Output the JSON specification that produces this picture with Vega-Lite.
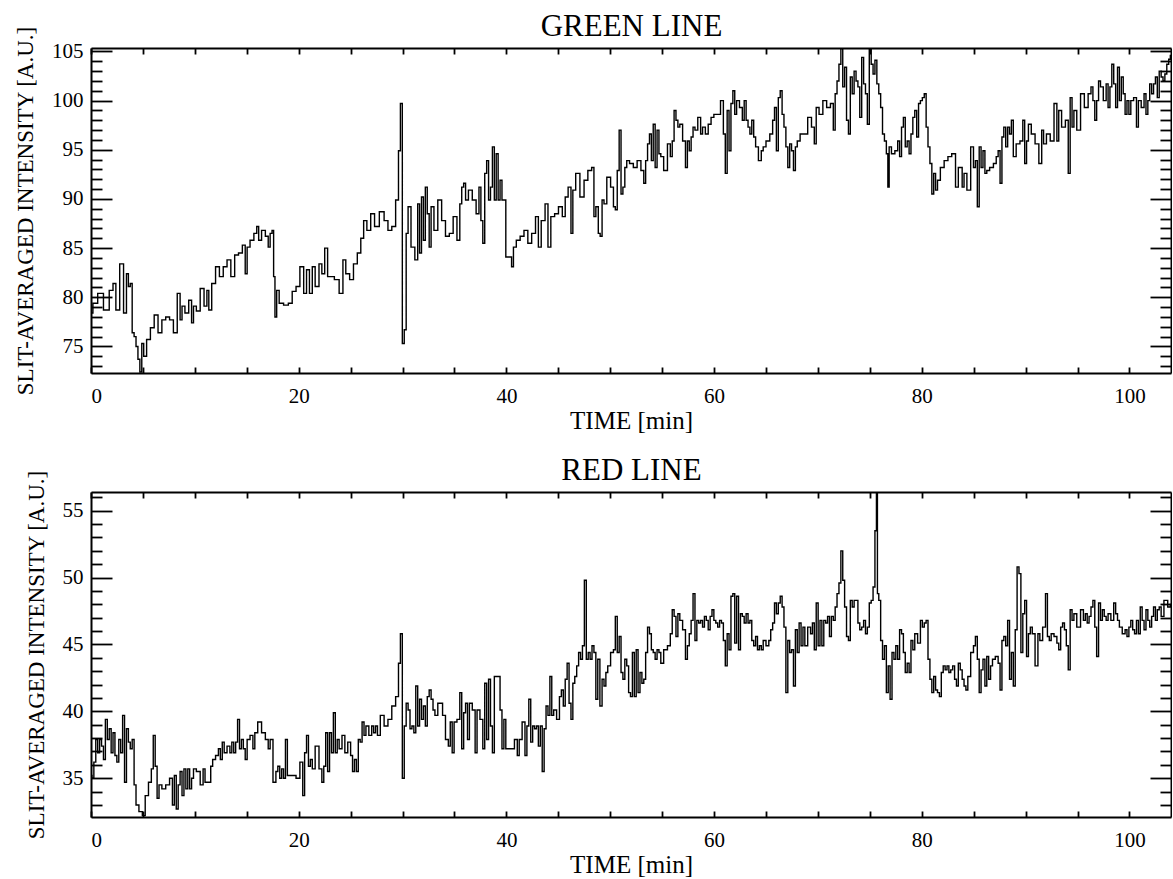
{
"$schema": "https://vega.github.io/schema/vega-lite/v6.json",
"padding": {"left": 14, "top": 10, "right": 0, "bottom": 0},
"background": "white",
"spacing": 21,
"config": {
 "font": "Liberation Serif",
 "view": {"stroke": null},
 "axis": {"grid": false, "domainColor": "black", "domainWidth": 2, "tickColor": "black", "tickWidth": 1.8, "labelColor": "black", "titleColor": "black", "labelFont": "Liberation Serif", "titleFont": "Liberation Serif", "labelFontSize": 21, "titleFontWeight": "normal"}
},
"datasets": {
 "green": [
{"t":0,"v":78.4},{"t":0.37,"v":79.4},{"t":0.92,"v":80.4},{"t":1.48,"v":78.7},{"t":2.03,"v":80.7},{"t":2.21,"v":81.4},{"t":2.58,"v":78.7},{"t":2.95,"v":83.4},{"t":3.32,"v":78.4},{"t":3.51,"v":82.4},{"t":3.69,"v":81.1},{"t":3.87,"v":81.4},{"t":4.06,"v":76.4},{"t":4.24,"v":76.0},{"t":4.43,"v":75.0},{"t":4.61,"v":73.7},{"t":4.80,"v":72.4},{"t":4.98,"v":75.3},{"t":5.17,"v":74.0},{"t":5.54,"v":75.7},{"t":5.90,"v":76.9},{"t":6.27,"v":78.2},{"t":6.64,"v":76.4},{"t":7.01,"v":77.7},{"t":7.38,"v":78.0},{"t":7.75,"v":77.7},{"t":8.12,"v":76.4},{"t":8.49,"v":80.4},{"t":8.67,"v":77.7},{"t":8.86,"v":79.1},{"t":9.23,"v":78.4},{"t":9.59,"v":79.7},{"t":9.78,"v":77.4},{"t":9.96,"v":79.1},{"t":10.33,"v":78.6},{"t":10.70,"v":80.9},{"t":11.07,"v":79.1},{"t":11.25,"v":80.7},{"t":11.44,"v":78.7},{"t":11.81,"v":81.4},{"t":12.18,"v":83.1},{"t":12.55,"v":82.1},{"t":12.92,"v":83.1},{"t":13.28,"v":83.8},{"t":13.65,"v":82.1},{"t":14.02,"v":84.3},{"t":14.39,"v":84.5},{"t":14.76,"v":85.3},{"t":14.94,"v":82.4},{"t":15.13,"v":85.1},{"t":15.50,"v":85.8},{"t":15.87,"v":86.5},{"t":16.05,"v":87.2},{"t":16.24,"v":85.8},{"t":16.61,"v":86.8},{"t":16.97,"v":86.2},{"t":17.16,"v":85.1},{"t":17.34,"v":86.5},{"t":17.53,"v":86.8},{"t":17.64,"v":82.1},{"t":17.79,"v":78.0},{"t":17.97,"v":80.7},{"t":18.27,"v":79.4},{"t":18.82,"v":79.2},{"t":19.19,"v":79.4},{"t":19.56,"v":80.6},{"t":19.93,"v":81.1},{"t":20.30,"v":83.1},{"t":20.66,"v":80.4},{"t":20.85,"v":82.8},{"t":21.22,"v":80.4},{"t":21.40,"v":83.1},{"t":21.77,"v":81.1},{"t":22.14,"v":83.4},{"t":22.32,"v":82.4},{"t":22.69,"v":85.0},{"t":22.88,"v":82.1},{"t":23.25,"v":82.1},{"t":23.62,"v":81.8},{"t":24.17,"v":80.4},{"t":24.35,"v":83.8},{"t":24.72,"v":82.4},{"t":25.09,"v":81.8},{"t":25.46,"v":83.4},{"t":25.83,"v":84.5},{"t":26.13,"v":86.0},{"t":26.38,"v":87.8},{"t":26.75,"v":86.8},{"t":27.12,"v":88.5},{"t":27.49,"v":87.2},{"t":28.04,"v":88.7},{"t":28.41,"v":87.8},{"t":28.78,"v":86.8},{"t":29.15,"v":87.2},{"t":29.52,"v":89.9},{"t":29.70,"v":94.9},{"t":29.89,"v":99.7},{"t":30.07,"v":75.3},{"t":30.26,"v":76.7},{"t":30.44,"v":86.5},{"t":30.63,"v":89.2},{"t":31.00,"v":85.1},{"t":31.37,"v":83.8},{"t":31.55,"v":89.5},{"t":31.73,"v":84.5},{"t":31.92,"v":90.2},{"t":32.10,"v":85.8},{"t":32.29,"v":91.2},{"t":32.47,"v":88.5},{"t":32.66,"v":85.1},{"t":32.84,"v":89.2},{"t":33.21,"v":86.8},{"t":33.58,"v":89.9},{"t":33.95,"v":87.8},{"t":34.32,"v":86.2},{"t":34.69,"v":86.5},{"t":35.06,"v":88.2},{"t":35.42,"v":85.8},{"t":35.61,"v":89.5},{"t":35.79,"v":91.2},{"t":35.98,"v":91.6},{"t":36.16,"v":89.9},{"t":36.53,"v":90.9},{"t":36.90,"v":89.9},{"t":37.27,"v":88.5},{"t":37.45,"v":91.2},{"t":37.64,"v":87.8},{"t":37.82,"v":85.5},{"t":38.01,"v":92.6},{"t":38.19,"v":93.9},{"t":38.38,"v":89.9},{"t":38.56,"v":91.2},{"t":38.75,"v":95.3},{"t":38.93,"v":89.9},{"t":39.11,"v":94.6},{"t":39.30,"v":89.9},{"t":39.48,"v":91.9},{"t":39.67,"v":89.9},{"t":39.85,"v":89.9},{"t":40.04,"v":84.1},{"t":40.41,"v":84.1},{"t":40.59,"v":83.1},{"t":40.77,"v":85.1},{"t":41.14,"v":85.8},{"t":41.51,"v":86.2},{"t":41.88,"v":86.8},{"t":42.25,"v":85.5},{"t":42.62,"v":86.5},{"t":42.99,"v":88.2},{"t":43.17,"v":85.1},{"t":43.54,"v":87.8},{"t":43.91,"v":89.5},{"t":44.10,"v":85.1},{"t":44.46,"v":88.2},{"t":44.83,"v":88.5},{"t":45.20,"v":89.2},{"t":45.57,"v":88.2},{"t":45.76,"v":90.2},{"t":46.13,"v":91.2},{"t":46.31,"v":86.5},{"t":46.49,"v":90.9},{"t":46.86,"v":92.6},
{"t":47.30,"v":90.2},{"t":47.66,"v":91.9},{"t":48.03,"v":92.9},{"t":48.39,"v":93.2},{"t":48.47,"v":88.2},{"t":48.76,"v":89.2},{"t":48.94,"v":86.5},{"t":49.12,"v":86.2},{"t":49.31,"v":89.9},{"t":49.49,"v":89.5},{"t":49.85,"v":92.2},{"t":50.22,"v":91.2},{"t":50.40,"v":89.2},{"t":50.58,"v":88.9},{"t":50.77,"v":92.9},{"t":50.95,"v":97.0},{"t":51.13,"v":90.5},{"t":51.31,"v":91.2},{"t":51.50,"v":93.2},{"t":51.68,"v":93.9},{"t":52.04,"v":93.6},{"t":52.41,"v":93.2},{"t":52.77,"v":93.9},{"t":53.14,"v":92.9},{"t":53.32,"v":91.6},{"t":53.50,"v":93.9},{"t":53.69,"v":95.6},{"t":53.87,"v":96.6},{"t":54.05,"v":93.9},{"t":54.23,"v":97.6},{"t":54.42,"v":93.2},{"t":54.60,"v":97.0},{"t":54.78,"v":94.6},{"t":54.96,"v":94.3},{"t":55.33,"v":92.9},{"t":55.69,"v":95.6},{"t":55.88,"v":94.3},{"t":56.06,"v":95.9},{"t":56.24,"v":99.0},{"t":56.42,"v":98.0},{"t":56.61,"v":97.3},{"t":56.79,"v":97.6},{"t":57.15,"v":95.9},{"t":57.34,"v":93.2},{"t":57.52,"v":95.9},{"t":57.70,"v":94.9},{"t":57.88,"v":96.3},{"t":58.07,"v":97.3},{"t":58.25,"v":97.0},{"t":58.61,"v":98.3},{"t":58.80,"v":96.6},{"t":58.98,"v":97.3},{"t":59.34,"v":96.6},{"t":59.53,"v":97.6},{"t":59.89,"v":98.3},{"t":60.07,"v":98.6},{"t":60.44,"v":98.6},{"t":60.80,"v":100.0},{"t":60.99,"v":96.6},{"t":61.17,"v":92.6},{"t":61.35,"v":99.0},{"t":61.53,"v":94.9},{"t":61.72,"v":99.7},{"t":61.90,"v":101.0},{"t":62.08,"v":98.6},{"t":62.26,"v":100.0},{"t":62.63,"v":99.3},{"t":62.81,"v":98.0},{"t":62.99,"v":100.0},{"t":63.18,"v":98.0},{"t":63.36,"v":97.3},{"t":63.54,"v":96.6},{"t":63.72,"v":98.0},{"t":63.91,"v":96.3},{"t":64.09,"v":95.3},{"t":64.45,"v":93.9},{"t":64.64,"v":94.9},{"t":64.82,"v":95.3},{"t":65.18,"v":95.9},{"t":65.55,"v":96.6},{"t":65.73,"v":98.0},{"t":65.91,"v":99.3},{"t":66.09,"v":94.9},{"t":66.28,"v":100.3},{"t":66.46,"v":101.0},{"t":66.64,"v":98.6},{"t":66.82,"v":97.3},{"t":67.01,"v":95.3},{"t":67.19,"v":93.2},{"t":67.37,"v":95.6},{"t":67.55,"v":94.9},{"t":67.74,"v":92.9},{"t":67.92,"v":95.3},{"t":68.10,"v":95.9},{"t":68.47,"v":96.6},{"t":68.83,"v":96.6},{"t":69.20,"v":98.3},{"t":69.56,"v":97.3},{"t":69.74,"v":95.6},{"t":69.93,"v":99.3},{"t":70.29,"v":98.6},{"t":70.66,"v":100.0},{"t":71.02,"v":99.3},{"t":71.39,"v":99.7},{"t":71.57,"v":97.0},{"t":71.75,"v":100.7},{"t":71.93,"v":102.0},{"t":72.12,"v":103.7},{"t":72.30,"v":105.3},{"t":72.48,"v":101.4},{"t":72.66,"v":103.4},{"t":72.85,"v":98.0},{"t":73.03,"v":96.6},{"t":73.21,"v":102.4},{"t":73.39,"v":100.7},{"t":73.58,"v":103.0},{"t":73.76,"v":102.0},{"t":73.94,"v":101.4},{"t":74.12,"v":98.3},{"t":74.31,"v":104.4},{"t":74.49,"v":101.7},{"t":74.67,"v":100.7},{"t":74.85,"v":97.6},{"t":75.04,"v":105.3},{"t":75.22,"v":103.7},{"t":75.40,"v":102.7},{"t":75.58,"v":104.1},{"t":75.77,"v":101.7},{"t":75.95,"v":100.7},{"t":76.13,"v":99.3},{"t":76.31,"v":96.6},{"t":76.50,"v":95.9},{"t":76.68,"v":94.6},{"t":76.79,"v":91.2},{"t":76.93,"v":95.3},{"t":77.23,"v":94.6},{"t":77.59,"v":94.9},{"t":77.77,"v":95.9},{"t":77.96,"v":94.3},{"t":78.14,"v":97.3},{"t":78.32,"v":98.3},{"t":78.50,"v":95.3},{"t":78.69,"v":95.9},{"t":78.87,"v":94.6},{"t":79.05,"v":96.6},{"t":79.23,"v":98.3},{"t":79.42,"v":99.0},{"t":79.60,"v":96.3},{"t":79.78,"v":99.7},{"t":79.96,"v":100.0},{"t":80.15,"v":100.3},{"t":80.33,"v":100.7},{"t":80.51,"v":97.3},{"t":80.69,"v":95.3},{"t":80.88,"v":93.6},{"t":81.06,"v":90.5},{"t":81.24,"v":92.6},{"t":81.42,"v":90.9},{"t":81.61,"v":91.9},{"t":81.97,"v":93.2},{"t":82.34,"v":93.9},{"t":82.70,"v":94.3},{"t":83.07,"v":94.6},{"t":83.43,"v":91.2},{"t":83.61,"v":93.2},{"t":83.80,"v":93.2},{"t":83.98,"v":91.2},{"t":84.16,"v":92.6},{"t":84.53,"v":90.9},{"t":84.89,"v":95.3},{"t":85.07,"v":93.2},{"t":85.26,"v":93.9},{"t":85.44,"v":89.2},{"t":85.62,"v":95.3},{"t":85.80,"v":93.2},{"t":85.99,"v":94.9},{"t":86.17,"v":92.6},{"t":86.35,"v":92.9},{"t":86.72,"v":93.2},{"t":87.08,"v":93.6},{"t":87.26,"v":94.3},{"t":87.45,"v":94.9},{"t":87.63,"v":91.6},{"t":87.81,"v":96.3},{"t":87.99,"v":97.3},{"t":88.18,"v":95.3},{"t":88.36,"v":97.3},{"t":88.54,"v":96.6},{"t":88.72,"v":98.0},{"t":88.91,"v":94.3},{"t":89.27,"v":95.6},{"t":89.64,"v":95.9},{"t":89.82,"v":98.0},{"t":90.00,"v":93.6},{"t":90.18,"v":95.9},{"t":90.36,"v":97.6},{"t":90.73,"v":96.6},{"t":91.09,"v":95.6},{"t":91.46,"v":93.6},{"t":91.64,"v":97.0},{"t":91.82,"v":95.6},{"t":92.19,"v":96.6},{"t":92.55,"v":95.9},{"t":92.92,"v":99.7},{"t":93.10,"v":95.9},{"t":93.28,"v":99.0},{"t":93.65,"v":97.3},{"t":94.01,"v":98.0},{"t":94.20,"v":92.6},{"t":94.38,"v":100.3},{"t":94.56,"v":97.3},{"t":94.74,"v":99.0},{"t":95.11,"v":97.0},{"t":95.47,"v":100.7},{"t":95.84,"v":99.3},{"t":96.20,"v":100.7},{"t":96.39,"v":101.4},{"t":96.57,"v":100.0},{"t":96.75,"v":98.0},{"t":96.93,"v":100.0},{"t":97.12,"v":102.0},{"t":97.30,"v":101.4},{"t":97.66,"v":100.0},{"t":97.85,"v":101.7},{"t":98.03,"v":99.3},{"t":98.21,"v":101.4},{"t":98.39,"v":103.7},{"t":98.58,"v":101.7},{"t":98.76,"v":99.3},{"t":98.94,"v":103.4},{"t":99.12,"v":100.0},{"t":99.31,"v":102.4},{"t":99.49,"v":100.7},{"t":99.67,"v":98.6},{"t":99.85,"v":100.0},{"t":100.04,"v":98.6},{"t":100.22,"v":100.0},{"t":100.58,"v":100.3},{"t":100.77,"v":97.3},{"t":100.95,"v":100.0},{"t":101.31,"v":99.3},{"t":101.50,"v":100.7},{"t":101.68,"v":98.6},{"t":101.86,"v":100.0},{"t":102.04,"v":101.7},{"t":102.23,"v":100.7},{"t":102.41,"v":101.7},{"t":102.59,"v":102.4},{"t":102.77,"v":100.3},{"t":102.96,"v":103.0},{"t":103.14,"v":102.4},{"t":103.32,"v":102.0},{"t":103.50,"v":102.7},{"t":103.69,"v":103.7},{"t":103.87,"v":104.2},{"t":104.0,"v":104.6}
 ],
 "red": [
{"t":0,"v":35.2},{"t":0.18,"v":35.0},{"t":0.37,"v":36.2},{"t":0.55,"v":37.9},{"t":0.74,"v":36.9},{"t":0.92,"v":37.9},{"t":1.11,"v":37.4},{"t":1.29,"v":36.4},{"t":1.48,"v":39.4},{"t":1.66,"v":37.9},{"t":1.85,"v":38.7},{"t":2.03,"v":36.9},{"t":2.21,"v":38.4},{"t":2.40,"v":36.7},{"t":2.58,"v":36.2},{"t":2.77,"v":37.9},{"t":2.95,"v":36.9},{"t":3.14,"v":39.7},{"t":3.32,"v":34.7},{"t":3.51,"v":38.7},{"t":3.69,"v":37.7},{"t":3.87,"v":37.2},{"t":4.06,"v":37.9},{"t":4.24,"v":34.5},{"t":4.43,"v":33.0},{"t":4.80,"v":32.5},{"t":5.09,"v":32.2},{"t":5.35,"v":33.7},{"t":5.72,"v":34.7},{"t":5.90,"v":35.7},{"t":6.09,"v":38.2},{"t":6.27,"v":35.9},{"t":6.46,"v":33.5},{"t":6.64,"v":34.5},{"t":7.01,"v":34.2},{"t":7.38,"v":34.5},{"t":7.75,"v":35.0},{"t":7.93,"v":33.0},{"t":8.12,"v":35.2},{"t":8.30,"v":32.7},{"t":8.49,"v":34.5},{"t":8.67,"v":35.5},{"t":8.86,"v":33.7},{"t":9.04,"v":35.7},{"t":9.23,"v":34.2},{"t":9.41,"v":35.7},{"t":9.59,"v":34.2},{"t":9.78,"v":35.0},{"t":9.96,"v":35.7},{"t":10.33,"v":35.5},{"t":10.70,"v":34.5},{"t":10.89,"v":35.7},{"t":11.07,"v":34.7},{"t":11.44,"v":34.7},{"t":11.62,"v":35.9},{"t":11.81,"v":36.4},{"t":12.18,"v":36.7},{"t":12.36,"v":37.2},{"t":12.55,"v":36.4},{"t":12.73,"v":37.7},{"t":12.92,"v":36.9},{"t":13.28,"v":37.4},{"t":13.47,"v":36.9},{"t":13.65,"v":37.7},{"t":13.84,"v":36.9},{"t":14.02,"v":37.7},{"t":14.21,"v":39.4},{"t":14.39,"v":37.2},{"t":14.58,"v":37.9},{"t":14.76,"v":37.2},{"t":14.94,"v":36.4},{"t":15.13,"v":37.9},{"t":15.50,"v":38.2},{"t":15.68,"v":37.2},{"t":15.87,"v":38.4},{"t":16.24,"v":39.2},{"t":16.61,"v":38.4},{"t":16.97,"v":37.9},{"t":17.16,"v":37.2},{"t":17.34,"v":37.9},{"t":17.71,"v":34.7},{"t":17.90,"v":35.5},{"t":18.08,"v":35.9},{"t":18.27,"v":35.0},{"t":18.45,"v":35.7},{"t":18.63,"v":35.0},{"t":18.82,"v":37.9},{"t":19.00,"v":35.2},{"t":19.56,"v":35.2},{"t":19.93,"v":35.0},{"t":20.30,"v":36.2},{"t":20.48,"v":33.7},{"t":20.66,"v":36.9},{"t":20.85,"v":38.2},{"t":21.03,"v":35.9},{"t":21.22,"v":36.4},{"t":21.40,"v":35.7},{"t":21.77,"v":37.4},{"t":22.14,"v":35.7},{"t":22.32,"v":34.7},{"t":22.51,"v":35.9},{"t":22.69,"v":38.4},{"t":22.88,"v":35.5},{"t":23.06,"v":38.4},{"t":23.25,"v":36.9},{"t":23.43,"v":39.9},{"t":23.62,"v":36.9},{"t":23.80,"v":37.9},{"t":23.99,"v":37.2},{"t":24.35,"v":38.2},{"t":24.54,"v":36.9},{"t":24.91,"v":37.7},{"t":25.09,"v":36.7},{"t":25.28,"v":35.5},{"t":25.46,"v":36.4},{"t":25.65,"v":35.5},{"t":25.83,"v":37.9},{"t":26.01,"v":37.7},{"t":26.20,"v":39.2},{"t":26.38,"v":38.2},{"t":26.57,"v":38.9},{"t":26.94,"v":38.2},{"t":27.12,"v":38.9},{"t":27.31,"v":38.4},{"t":27.49,"v":38.9},{"t":27.68,"v":38.2},{"t":28.04,"v":39.7},{"t":28.41,"v":38.9},{"t":28.78,"v":39.4},{"t":29.15,"v":40.4},{"t":29.52,"v":41.1},{"t":29.70,"v":43.6},{"t":29.89,"v":45.8},{"t":30.07,"v":35.0},{"t":30.26,"v":38.9},{"t":30.44,"v":40.6},{"t":30.63,"v":40.1},{"t":30.81,"v":38.7},{"t":31.00,"v":38.9},{"t":31.18,"v":38.4},{"t":31.37,"v":41.9},{"t":31.55,"v":38.9},{"t":31.73,"v":40.9},{"t":31.92,"v":39.4},{"t":32.10,"v":40.4},{"t":32.29,"v":38.9},{"t":32.47,"v":41.1},{"t":32.66,"v":41.6},{"t":32.84,"v":40.9},{"t":33.03,"v":40.1},{"t":33.21,"v":39.7},{"t":33.58,"v":40.6},{"t":33.76,"v":40.6},{"t":33.95,"v":39.7},{"t":34.32,"v":37.9},{"t":34.50,"v":37.4},{"t":34.69,"v":39.2},{"t":34.87,"v":36.9},{"t":35.06,"v":39.2},{"t":35.42,"v":39.4},{"t":35.61,"v":41.4},{"t":35.79,"v":37.2},{"t":35.98,"v":39.9},{"t":36.16,"v":40.6},{"t":36.35,"v":37.9},{"t":36.53,"v":40.6},{"t":36.90,"v":40.1},{"t":37.08,"v":36.9},{"t":37.27,"v":40.1},{"t":37.64,"v":39.4},{"t":37.82,"v":37.2},{"t":38.01,"v":42.1},{"t":38.19,"v":37.9},{"t":38.38,"v":42.4},{"t":38.56,"v":38.9},{"t":38.75,"v":36.9},{"t":38.93,"v":42.6},{"t":39.30,"v":42.6},{"t":39.48,"v":40.1},{"t":39.67,"v":37.2},{"t":39.85,"v":39.4},{"t":40.04,"v":37.2},{"t":40.59,"v":37.2},{"t":40.96,"v":37.9},{"t":41.14,"v":36.7},{"t":41.33,"v":37.9},{"t":41.70,"v":39.2},{"t":41.88,"v":36.7},{"t":42.07,"v":38.9},{"t":42.25,"v":40.9},{"t":42.44,"v":37.7},{"t":42.62,"v":38.9},{"t":42.80,"v":38.7},{"t":42.99,"v":38.9},{"t":43.17,"v":37.4},{"t":43.36,"v":38.9},{"t":43.54,"v":35.5},{"t":43.73,"v":38.7},{"t":43.91,"v":40.4},{"t":44.10,"v":39.7},{"t":44.28,"v":42.6},{"t":44.46,"v":39.7},{"t":44.65,"v":40.1},{"t":45.02,"v":39.4},{"t":45.20,"v":41.1},{"t":45.39,"v":41.6},{"t":45.57,"v":40.4},{"t":45.76,"v":42.4},{"t":45.94,"v":43.6},{"t":46.13,"v":40.6},{"t":46.31,"v":39.4},{"t":46.49,"v":42.1},{"t":46.68,"v":42.6},{"t":46.86,"v":43.4},{"t":47.05,"v":44.4},{"t":47.23,"v":43.9},{"t":47.42,"v":44.9},{"t":47.60,"v":49.8},{"t":47.79,"v":43.9},{"t":47.97,"v":44.4},{"t":48.15,"v":43.9},{"t":48.34,"v":44.9},{"t":48.52,"v":44.4},{"t":48.71,"v":40.9},{"t":48.89,"v":43.9},
{"t":49.12,"v":40.4},{"t":49.31,"v":42.4},{"t":49.49,"v":41.9},{"t":49.67,"v":42.9},{"t":49.85,"v":43.4},{"t":50.22,"v":44.4},{"t":50.40,"v":44.6},{"t":50.58,"v":47.1},{"t":50.77,"v":44.4},{"t":50.95,"v":45.6},{"t":51.13,"v":42.9},{"t":51.31,"v":42.4},{"t":51.50,"v":43.9},{"t":51.68,"v":43.4},{"t":51.86,"v":41.4},{"t":52.04,"v":41.1},{"t":52.23,"v":44.4},{"t":52.41,"v":41.1},{"t":52.59,"v":44.6},{"t":52.77,"v":41.4},{"t":52.96,"v":42.9},{"t":53.14,"v":42.1},{"t":53.32,"v":42.4},{"t":53.50,"v":44.4},{"t":53.69,"v":46.3},{"t":53.87,"v":45.8},{"t":54.05,"v":44.6},{"t":54.23,"v":44.4},{"t":54.42,"v":43.9},{"t":54.60,"v":44.6},{"t":54.78,"v":44.4},{"t":54.96,"v":43.6},{"t":55.33,"v":44.6},{"t":55.69,"v":44.9},{"t":55.88,"v":45.8},{"t":56.06,"v":47.6},{"t":56.24,"v":47.1},{"t":56.42,"v":45.6},{"t":56.61,"v":47.3},{"t":56.79,"v":46.8},{"t":57.15,"v":46.1},{"t":57.34,"v":43.9},{"t":57.52,"v":44.9},{"t":57.70,"v":45.8},{"t":57.88,"v":46.8},{"t":58.07,"v":48.8},{"t":58.25,"v":45.3},{"t":58.43,"v":46.8},{"t":58.61,"v":46.6},{"t":58.80,"v":46.8},{"t":58.98,"v":46.3},{"t":59.16,"v":47.1},{"t":59.34,"v":46.8},{"t":59.53,"v":46.1},{"t":59.71,"v":47.1},{"t":59.89,"v":47.6},{"t":60.07,"v":46.8},{"t":60.26,"v":46.6},{"t":60.44,"v":46.3},{"t":60.62,"v":46.8},{"t":60.80,"v":46.6},{"t":60.99,"v":45.3},{"t":61.17,"v":43.4},{"t":61.35,"v":45.8},{"t":61.53,"v":44.6},{"t":61.72,"v":48.6},{"t":61.90,"v":48.8},{"t":62.08,"v":45.1},{"t":62.26,"v":48.6},{"t":62.45,"v":44.6},{"t":62.63,"v":47.3},{"t":62.81,"v":47.1},{"t":62.99,"v":46.6},{"t":63.18,"v":47.3},{"t":63.36,"v":46.6},{"t":63.54,"v":46.8},{"t":63.72,"v":45.3},{"t":63.91,"v":44.9},{"t":64.09,"v":45.6},{"t":64.27,"v":44.6},{"t":64.45,"v":44.9},{"t":64.64,"v":44.6},{"t":64.82,"v":45.3},{"t":65.18,"v":44.9},{"t":65.36,"v":45.3},{"t":65.55,"v":46.1},{"t":65.73,"v":46.6},{"t":65.91,"v":48.1},{"t":66.09,"v":47.3},{"t":66.28,"v":48.1},{"t":66.46,"v":48.6},{"t":66.64,"v":47.8},{"t":66.82,"v":46.3},{"t":67.01,"v":41.4},{"t":67.19,"v":45.3},{"t":67.37,"v":44.4},{"t":67.55,"v":44.6},{"t":67.74,"v":41.9},{"t":67.92,"v":46.1},{"t":68.10,"v":44.4},{"t":68.28,"v":46.6},{"t":68.47,"v":44.9},{"t":68.65,"v":46.3},{"t":68.83,"v":44.9},{"t":69.20,"v":46.3},{"t":69.38,"v":45.8},{"t":69.56,"v":46.6},{"t":69.74,"v":44.6},{"t":69.93,"v":48.1},{"t":70.11,"v":44.9},{"t":70.29,"v":46.8},{"t":70.47,"v":44.9},{"t":70.66,"v":46.8},{"t":70.84,"v":46.6},{"t":71.02,"v":47.1},{"t":71.20,"v":45.6},{"t":71.39,"v":47.1},{"t":71.57,"v":46.8},{"t":71.75,"v":47.8},{"t":71.93,"v":48.8},{"t":72.12,"v":49.6},{"t":72.30,"v":52.0},{"t":72.48,"v":49.8},{"t":72.66,"v":47.8},{"t":72.85,"v":45.6},{"t":73.03,"v":45.3},{"t":73.21,"v":48.3},{"t":73.39,"v":47.8},{"t":73.58,"v":48.3},{"t":73.76,"v":48.3},{"t":73.94,"v":46.6},{"t":74.12,"v":46.1},{"t":74.31,"v":46.3},{"t":74.49,"v":46.8},{"t":74.67,"v":45.8},{"t":74.85,"v":46.3},{"t":75.04,"v":48.1},{"t":75.22,"v":48.3},{"t":75.40,"v":49.3},{"t":75.58,"v":53.5},{"t":75.69,"v":56.3},{"t":75.77,"v":48.8},{"t":75.95,"v":48.3},{"t":76.13,"v":45.3},{"t":76.31,"v":43.9},{"t":76.50,"v":44.9},{"t":76.68,"v":41.4},{"t":76.86,"v":43.4},{"t":77.04,"v":40.9},{"t":77.23,"v":44.4},{"t":77.41,"v":43.9},{"t":77.59,"v":44.9},{"t":77.77,"v":43.9},{"t":77.96,"v":46.1},{"t":78.14,"v":45.8},{"t":78.32,"v":44.4},{"t":78.50,"v":42.9},{"t":78.69,"v":43.6},{"t":78.87,"v":42.9},{"t":79.05,"v":45.3},{"t":79.23,"v":44.6},{"t":79.42,"v":45.8},{"t":79.78,"v":45.1},{"t":79.96,"v":46.8},{"t":80.15,"v":46.3},{"t":80.33,"v":46.6},{"t":80.51,"v":46.8},{"t":80.69,"v":43.9},{"t":80.88,"v":42.4},{"t":81.06,"v":41.4},{"t":81.24,"v":42.6},{"t":81.42,"v":41.6},{"t":81.61,"v":41.4},{"t":81.79,"v":41.1},{"t":81.97,"v":42.9},{"t":82.16,"v":43.4},{"t":82.34,"v":43.1},{"t":82.52,"v":43.4},{"t":82.70,"v":42.9},{"t":82.88,"v":43.1},{"t":83.07,"v":43.4},{"t":83.25,"v":42.4},{"t":83.43,"v":41.9},{"t":83.61,"v":43.6},{"t":83.80,"v":43.1},{"t":83.98,"v":42.4},{"t":84.16,"v":41.9},{"t":84.34,"v":41.6},{"t":84.53,"v":42.6},{"t":84.89,"v":44.4},{"t":85.07,"v":44.9},{"t":85.26,"v":45.6},{"t":85.44,"v":43.9},{"t":85.62,"v":41.4},{"t":85.80,"v":43.1},{"t":85.99,"v":43.9},{"t":86.17,"v":41.9},{"t":86.35,"v":44.1},{"t":86.53,"v":42.4},{"t":86.72,"v":43.4},{"t":86.90,"v":43.9},{"t":87.26,"v":44.1},{"t":87.45,"v":43.6},{"t":87.63,"v":41.6},{"t":87.81,"v":45.3},{"t":87.99,"v":45.6},{"t":88.18,"v":44.9},{"t":88.36,"v":46.8},{"t":88.54,"v":42.4},{"t":88.72,"v":44.4},{"t":88.91,"v":41.9},{"t":89.09,"v":46.1},{"t":89.27,"v":50.8},{"t":89.45,"v":50.3},{"t":89.64,"v":44.4},{"t":89.82,"v":47.3},{"t":90.00,"v":48.3},{"t":90.18,"v":44.1},{"t":90.36,"v":45.8},{"t":90.55,"v":46.3},{"t":90.73,"v":45.8},{"t":91.09,"v":43.4},{"t":91.28,"v":45.8},{"t":91.46,"v":45.3},{"t":91.82,"v":46.3},{"t":92.01,"v":48.8},{"t":92.19,"v":45.6},{"t":92.37,"v":45.3},{"t":92.55,"v":45.8},{"t":92.92,"v":45.6},{"t":93.10,"v":45.1},{"t":93.28,"v":44.6},{"t":93.47,"v":46.3},{"t":93.65,"v":46.6},{"t":93.83,"v":46.1},{"t":94.01,"v":44.9},{"t":94.20,"v":43.1},{"t":94.38,"v":47.6},{"t":94.56,"v":46.8},{"t":94.74,"v":47.3},{"t":95.11,"v":46.3},{"t":95.47,"v":47.6},{"t":95.66,"v":46.8},{"t":95.84,"v":47.3},{"t":96.02,"v":46.6},{"t":96.20,"v":47.1},{"t":96.39,"v":47.8},{"t":96.57,"v":48.3},{"t":96.75,"v":46.3},{"t":96.93,"v":44.1},{"t":97.12,"v":48.1},{"t":97.30,"v":46.8},{"t":97.48,"v":47.6},{"t":97.66,"v":47.1},{"t":97.85,"v":46.8},{"t":98.03,"v":47.3},{"t":98.39,"v":46.8},{"t":98.58,"v":48.1},{"t":98.76,"v":47.3},{"t":98.94,"v":46.8},{"t":99.12,"v":46.3},{"t":99.49,"v":45.8},{"t":99.67,"v":46.1},{"t":99.85,"v":45.6},{"t":100.04,"v":46.3},{"t":100.22,"v":46.8},{"t":100.40,"v":46.1},{"t":100.58,"v":45.8},{"t":100.77,"v":46.8},{"t":100.95,"v":45.8},{"t":101.13,"v":47.8},{"t":101.31,"v":46.8},{"t":101.50,"v":46.1},{"t":101.68,"v":47.6},{"t":101.86,"v":46.8},{"t":102.04,"v":46.3},{"t":102.23,"v":47.1},{"t":102.41,"v":47.8},{"t":102.59,"v":46.8},{"t":102.77,"v":47.6},{"t":102.96,"v":47.8},{"t":103.14,"v":47.1},{"t":103.50,"v":48.3},{"t":103.87,"v":47.8},{"t":104.0,"v":48.0}
 ]
},
"vconcat": [
 {
  "width": 1080, "height": 325,
  "data": {"name": "green"},
  "layer": [
   {"mark": {"type": "line", "interpolate": "step", "color": "black", "strokeWidth": 1.4, "clip": true},
    "encoding": {
     "x": {"field": "t", "type": "quantitative", "scale": {"domain": [0, 104], "nice": false, "zero": false},
       "axis": {"orient": "bottom", "values": [0,20,40,60,80,100], "ticks": false, "labelPadding": 12, "title": "TIME [min]", "titleFontSize": 25, "titlePadding": 2}},
     "y": {"field": "v", "type": "quantitative", "scale": {"domain": [72.3, 105.35], "nice": false, "zero": false},
       "axis": {"orient": "left", "values": [75,80,85,90,95,100,105], "ticks": false, "labelPadding": 8, "title": "SLIT-AVERAGED INTENSITY [A.U.]", "titleFontSize": 23, "titlePadding": 14}}
    }},
   {"mark": {"type": "line", "opacity": 0},
    "encoding": {
     "x": {"field": "t", "type": "quantitative", "axis": {"orient": "bottom", "values": [0,5,10,15,20,25,30,35,40,45,50,55,60,65,70,75,80,85,90,95,100], "labels": false, "domain": false, "tickSize": -6, "title": null}},
     "y": {"field": "v", "type": "quantitative", "axis": {"orient": "left", "values": [73,74,75,76,77,78,79,80,81,82,83,84,85,86,87,88,89,90,91,92,93,94,95,96,97,98,99,100,101,102,103,104,105], "labels": false, "domain": false, "tickSize": {"condition": {"test": "datum.value % 5 === 0", "value": -21}, "value": -11}, "title": null}}
    }},
   {"mark": {"type": "line", "opacity": 0},
    "encoding": {
     "x": {"field": "t", "type": "quantitative", "axis": {"orient": "top", "values": [0,5,10,15,20,25,30,35,40,45,50,55,60,65,70,75,80,85,90,95,100], "labels": false, "tickSize": -6, "title": "GREEN LINE", "titleFontSize": 31, "titlePadding": 5}},
     "y": {"field": "v", "type": "quantitative", "axis": {"orient": "right", "values": [73,74,75,76,77,78,79,80,81,82,83,84,85,86,87,88,89,90,91,92,93,94,95,96,97,98,99,100,101,102,103,104,105], "labels": false, "tickSize": {"condition": {"test": "datum.value % 5 === 0", "value": -21}, "value": -11}, "title": null}}
    }}
  ],
  "resolve": {"axis": {"x": "independent", "y": "independent"}}
 },
 {
  "width": 1080, "height": 325,
  "data": {"name": "red"},
  "layer": [
   {"mark": {"type": "line", "interpolate": "step", "color": "black", "strokeWidth": 1.4, "clip": true},
    "encoding": {
     "x": {"field": "t", "type": "quantitative", "scale": {"domain": [0, 104], "nice": false, "zero": false},
       "axis": {"orient": "bottom", "values": [0,20,40,60,80,100], "ticks": false, "labelPadding": 12, "title": "TIME [min]", "titleFontSize": 25, "titlePadding": 2}},
     "y": {"field": "v", "type": "quantitative", "scale": {"domain": [32.1, 56.4], "nice": false, "zero": false},
       "axis": {"orient": "left", "values": [35,40,45,50,55], "ticks": false, "labelPadding": 8, "title": "SLIT-AVERAGED INTENSITY [A.U.]", "titleFontSize": 23, "titlePadding": 14}}
    }},
   {"mark": {"type": "line", "opacity": 0},
    "encoding": {
     "x": {"field": "t", "type": "quantitative", "axis": {"orient": "bottom", "values": [0,5,10,15,20,25,30,35,40,45,50,55,60,65,70,75,80,85,90,95,100], "labels": false, "domain": false, "tickSize": -6, "title": null}},
     "y": {"field": "v", "type": "quantitative", "axis": {"orient": "left", "values": [33,34,35,36,37,38,39,40,41,42,43,44,45,46,47,48,49,50,51,52,53,54,55,56], "labels": false, "domain": false, "tickSize": {"condition": {"test": "datum.value % 5 === 0", "value": -21}, "value": -11}, "title": null}}
    }},
   {"mark": {"type": "line", "opacity": 0},
    "encoding": {
     "x": {"field": "t", "type": "quantitative", "axis": {"orient": "top", "values": [0,5,10,15,20,25,30,35,40,45,50,55,60,65,70,75,80,85,90,95,100], "labels": false, "tickSize": -6, "title": "RED LINE", "titleFontSize": 31, "titlePadding": 5}},
     "y": {"field": "v", "type": "quantitative", "axis": {"orient": "right", "values": [33,34,35,36,37,38,39,40,41,42,43,44,45,46,47,48,49,50,51,52,53,54,55,56], "labels": false, "tickSize": {"condition": {"test": "datum.value % 5 === 0", "value": -21}, "value": -11}, "title": null}}
    }}
  ],
  "resolve": {"axis": {"x": "independent", "y": "independent"}}
 }
]
}
